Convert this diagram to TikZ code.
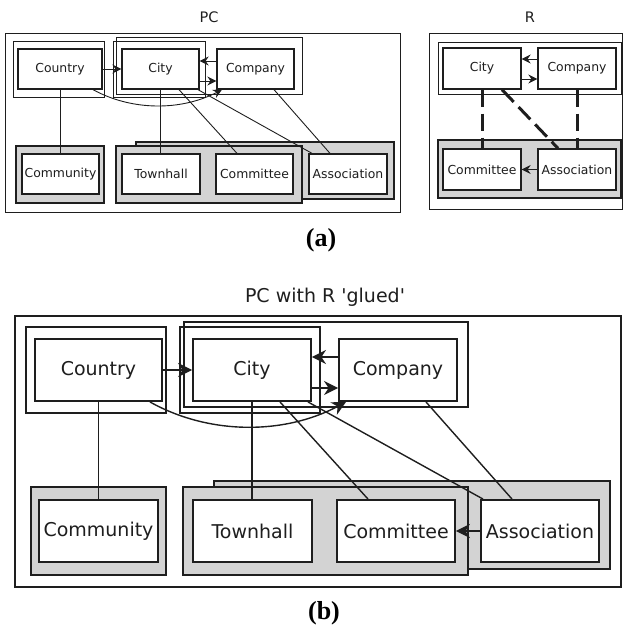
\documentclass[tikz,border=0pt]{standalone}
\usepackage{fontspec}
\setmainfont{DejaVu Sans}
\newfontfamily\capfont{Liberation Serif}
\usetikzlibrary{arrows.meta}

\definecolor{ink}{RGB}{30,30,30}
\definecolor{pane}{RGB}{211,211,211}

\tikzset{
  % boxes of the small diagrams
  sbox/.style={draw=ink, line width=1.3pt, fill=white, inner sep=0pt, text=ink,
    minimum height=40pt, font=\fontsize{12.4}{14}\selectfont},
  sframe/.style={draw=ink, line width=0.9pt},
  spanel/.style={draw=ink, line width=1.1pt, fill=pane},
  slink/.style={draw=ink, line width=0.9pt},
  stip/.style={-{Stealth[length=9pt,width=9pt,inset=3pt]}},
  rdash/.style={draw=ink, line width=3pt, dash pattern=on 17pt off 7pt},
  % boxes of the large diagram
  bbox/.style={draw=ink, line width=1.9pt, fill=white, inner sep=0pt, text=ink,
    minimum height=62pt, font=\fontsize{19}{22}\selectfont},
  bframe/.style={draw=ink, line width=1.4pt},
  bpanel/.style={draw=ink, line width=1.6pt, fill=pane},
  blink/.style={draw=ink, line width=1.4pt},
  btip/.style={-{Stealth[length=14pt,width=14pt,inset=4.5pt]}},
  title/.style={text=ink, inner sep=0pt},
  caption/.style={text=black, inner sep=0pt, font=\capfont\bfseries\fontsize{26}{28}\selectfont}
}

\begin{document}
\begin{tikzpicture}[x=1pt, y=-1pt]
\useasboundingbox (0,0) rectangle (623,627);

% ---------- titles and captions ----------
\node[title, font=\fontsize{14.5}{17}\selectfont] (t-pc) at (209,17) {PC};
\node[title, font=\fontsize{14.5}{17}\selectfont] (t-r) at (530,17) {R};
\node[title, font=\fontsize{19}{22}\selectfont] (t-glued) at (325,297) {PC with R \textquotesingle glued\textquotesingle};
\node[caption] (cap-a) at (321,240) {(a)};
\node[caption] (cap-b) at (324,613) {(b)};

% ---------- (a) PC ----------
\draw[sframe] (5,33) rectangle (400,212);
\draw[sframe] (13,41) rectangle (104,97);
\draw[sframe] (113,41) rectangle (205,97);
\draw[sframe] (116,37) rectangle (302,94);
\draw[spanel] (16,146) rectangle (104,203);
\draw[spanel] (136,142) rectangle (394,199);
\draw[spanel] (116,146) rectangle (302,203);

\node[sbox, minimum width=84] (a-country) at (60,69) {Country};
\node[sbox, minimum width=77] (a-city) at (160.5,69) {City};
\node[sbox, minimum width=77] (a-company) at (255.5,69) {Company};
\node[sbox, minimum width=77] (a-community) at (60.5,174) {Community};
\node[sbox, minimum width=78] (a-townhall) at (161,174) {Townhall};
\node[sbox, minimum width=77] (a-committee) at (254.5,174) {Committee};
\node[sbox, minimum width=78] (a-association) at (348,174) {Association};

\draw[slink, stip] (a-country.east) -- (a-city.west);
\draw[slink, stip] ([yshift=8]a-company.west) -- ([yshift=8]a-city.east);
\draw[slink, stip] ([yshift=-12]a-city.east) -- ([yshift=-12]a-company.west);
\draw[slink, stip] ([xshift=33]a-country.south) .. controls (132,111) and (181,111) .. ([xshift=-33.5]a-company.south);
\draw[slink] (a-country.south) -- (a-country.south |- a-community.north);
\draw[slink] (a-city.south) -- (a-city.south |- a-townhall.north);
\draw[slink] ([xshift=18.5]a-city.south) -- ([xshift=-17.5]a-committee.north);
\draw[slink] ([xshift=37.5]a-city.south) -- ([xshift=-36]a-association.north);
\draw[slink] ([xshift=18.5]a-company.south) -- ([xshift=-18]a-association.north);

% ---------- (a) R ----------
\draw[sframe] (429,33) rectangle (622.5,209);
\draw[sframe] (438,42) rectangle (621,94);
\draw[spanel] (438,140) rectangle (621,198);

\node[sbox, minimum width=78, minimum height=41] (r-city) at (482,68.5) {City};
\node[sbox, minimum width=78, minimum height=41] (r-company) at (577,68.5) {Company};
\node[sbox, minimum width=78, minimum height=41] (r-committee) at (482,169.5) {Committee};
\node[sbox, minimum width=78, minimum height=41] (r-association) at (577,169.5) {Association};

\draw[slink, stip] ([yshift=9.5]r-company.west) -- ([yshift=9.5]r-city.east);
\draw[slink, stip] ([yshift=-10.5]r-city.east) -- ([yshift=-10.5]r-company.west);
\draw[slink, stip] (r-association.west) -- (r-committee.east);
\draw[rdash] (r-city.south) -- (r-committee.north);
\draw[rdash] ([xshift=20]r-city.south) -- ([xshift=-19]r-association.north);
\draw[rdash] (r-company.south) -- (r-association.north);

% ---------- (b) PC with R glued ----------
\draw[bframe] (15,316) rectangle (621,587);
\draw[bframe] (26,327) rectangle (166,413);
\draw[bframe] (180,327) rectangle (320,413);
\draw[bframe] (184,322) rectangle (468,407);
\draw[bpanel] (31,487) rectangle (166,575);
\draw[bpanel] (214,481) rectangle (610,569);
\draw[bpanel] (183,487) rectangle (468,575);

\node[bbox, minimum width=127] (b-country) at (98.5,370) {Country};
\node[bbox, minimum width=118] (b-city) at (252,370) {City};
\node[bbox, minimum width=118] (b-company) at (398,370) {Company};
\node[bbox, minimum width=119] (b-community) at (98.5,531) {Community};
\node[bbox, minimum width=119] (b-townhall) at (252.5,531) {Townhall};
\node[bbox, minimum width=118] (b-committee) at (396,531) {Committee};
\node[bbox, minimum width=118] (b-association) at (540,531) {Association};

\draw[blink, btip] (b-country.east) -- (b-city.west);
\draw[blink, btip] ([yshift=13]b-company.west) -- ([yshift=13]b-city.east);
\draw[blink, btip] ([yshift=-18]b-city.east) -- ([yshift=-18]b-company.west);
\draw[blink, btip] (b-association.west) -- (b-committee.east);
\draw[blink, btip] ([xshift=51.5]b-country.south) .. controls (209,435) and (284,435) .. ([xshift=-52]b-company.south);
\draw[blink] (b-country.south) -- (b-country.south |- b-community.north);
\draw[blink] (b-city.south) -- (b-city.south |- b-townhall.north);
\draw[blink] ([xshift=28]b-city.south) -- ([xshift=-28]b-committee.north);
\draw[blink] ([xshift=56]b-city.south) -- ([xshift=-57]b-association.north);
\draw[blink] ([xshift=28]b-company.south) -- ([xshift=-28]b-association.north);
\end{tikzpicture}
\end{document}
